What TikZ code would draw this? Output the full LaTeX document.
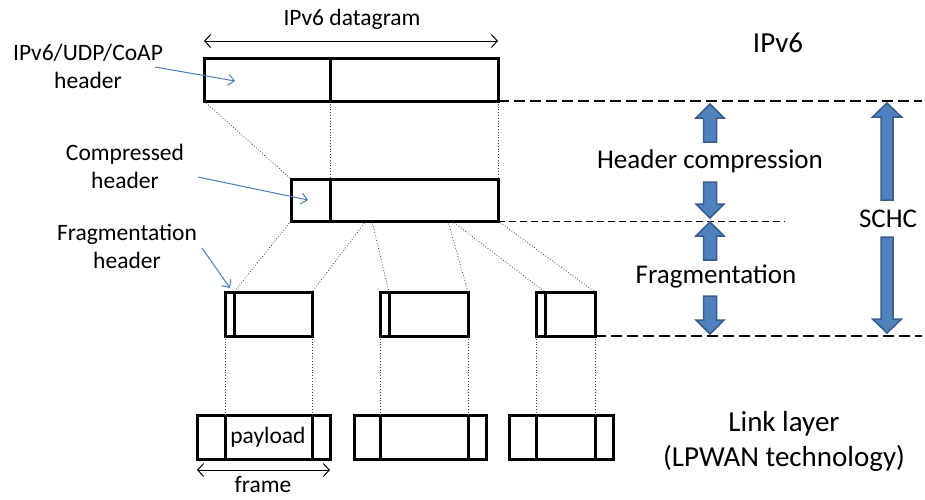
\documentclass[tikz,border=0pt]{standalone}
\usepackage{fontspec}
\setmainfont{Carlito}
\usetikzlibrary{arrows.meta}
\definecolor{tipblue}{HTML}{4A7EBB}
\definecolor{blockfill}{HTML}{4F81BD}
\definecolor{blockline}{HTML}{385D8A}
\tikzset{
  pkt/.style={draw, line width=3pt, inner sep=0pt, outer sep=0pt, anchor=north west},
  cut/.style={line width=3pt},
  link/.style={dotted, line width=0.8pt, black!75},
  level/.style={line width=1.4pt, dash pattern=on 11pt off 5pt},
  sublevel/.style={line width=1pt, dash pattern=on 7pt off 4pt},
  callout/.style={tipblue, line width=1pt, -{Straight Barb[length=6pt,width=11pt]}},
  span/.style={line width=1pt, {Straight Barb[length=6pt,width=13pt]}-{Straight Barb[length=6pt,width=13pt]}},
  lbl/.style={font=\fontsize{23.5}{28}\selectfont, align=center, inner sep=0pt},
  big/.style={font=\fontsize{27}{33}\selectfont, align=center, inner sep=0pt},
  huge/.style={font=\fontsize{29}{35}\selectfont, align=center, inner sep=0pt},
  block/.style={fill=blockfill, draw=blockline, line width=1.5pt},
}
% block arrow: x, tip, base, half shaft, half head, head length
\newcommand\upblock[6]{\draw[block] (#1,#2) -- (#1+#5,#2+#6) -- (#1+#4,#2+#6) -- (#1+#4,#3) -- (#1-#4,#3) -- (#1-#4,#2+#6) -- (#1-#5,#2+#6) -- cycle;}
\newcommand\downblock[6]{\draw[block] (#1,#2) -- (#1+#5,#2-#6) -- (#1+#4,#2-#6) -- (#1+#4,#3) -- (#1-#4,#3) -- (#1-#4,#2-#6) -- (#1-#5,#2-#6) -- cycle;}
\begin{document}
\begin{tikzpicture}[x=1pt, y=-1pt]
  \useasboundingbox (0,0) rectangle (925,499);

  % IPv6 datagram
  \node[pkt, minimum width=294pt, minimum height=43pt] (dgram) at (204,58) {};
  \coordinate (dcutn) at (330,58);
  \coordinate (dcuts) at (330,101);
  \draw[cut] (dcutn) -- (dcuts);
  \coordinate (spanl) at (204,41);
  \coordinate (spanr) at (498,41);
  \draw[span] (spanl) -- (spanr);
  \node[lbl] (dglabel) at (352,19) {IPv6 datagram};

  % compressed packet
  \node[pkt, minimum width=207pt, minimum height=42pt] (comp) at (291,179) {};
  \coordinate (ccutn) at (330,179);
  \coordinate (ccuts) at (330,221);
  \draw[cut] (ccutn) -- (ccuts);

  % fragments
  \node[pkt, minimum width=87pt, minimum height=44pt] (frag1) at (225,292) {};
  \node[pkt, minimum width=88pt, minimum height=44pt] (frag2) at (380,292) {};
  \node[pkt, minimum width=59pt, minimum height=44pt] (frag3) at (536,292) {};
  \foreach \x [count=\i] in {234,389,545} {
    \coordinate (fcut\i n) at (\x,292);
    \coordinate (fcut\i s) at (\x,336);
    \draw[cut] (fcut\i n) -- (fcut\i s);
  }

  % link layer frames
  \node[pkt, minimum width=133pt, minimum height=44pt] (frame1) at (197,415) {};
  \node[pkt, minimum width=132pt, minimum height=44pt] (frame2) at (354,415) {};
  \node[pkt, minimum width=104pt, minimum height=44pt] (frame3) at (509,415) {};
  \foreach \x [count=\i] in {225,312,380,468,536,595} {
    \coordinate (lcut\i n) at (\x,415);
    \coordinate (lcut\i s) at (\x,459);
    \draw[cut] (lcut\i n) -- (lcut\i s);
  }
  \node[lbl] (payload) at (268,437) {payload};
  \coordinate (framel) at (197,470);
  \coordinate (framer) at (330,470);
  \draw[span] (framel) -- (framer);
  \node[lbl] (framelabel) at (263,485) {frame};

  % dotted mapping lines
  \draw[link] (dgram.south west) -- (comp.north west);
  \draw[link] (dcuts) -- (ccutn);
  \draw[link] (dgram.south east) -- (comp.north east);
  \coordinate (c1) at (366,221);
  \coordinate (c2) at (372,221);
  \coordinate (c3) at (448,221);
  \coordinate (c4) at (452,221);
  \draw[link] (comp.south west) -- (fcut1n);
  \draw[link] (c1) -- (frag1.north east);
  \draw[link] (c2) -- (fcut2n);
  \draw[link] (c3) -- (frag2.north east);
  \draw[link] (c4) -- (fcut3n);
  \draw[link] (comp.south east) -- (frag3.north east);
  \draw[link] (frag1.south west) -- (lcut1n);
  \draw[link] (frag1.south east) -- (lcut2n);
  \draw[link] (frag2.south west) -- (lcut3n);
  \draw[link] (frag2.south east) -- (lcut4n);
  \draw[link] (frag3.south west) -- (lcut5n);
  \draw[link] (frag3.south east) -- (lcut6n);

  % level lines
  \coordinate (lvtop) at (922,101);
  \coordinate (lvmid) at (785,221);
  \coordinate (lvbot) at (922,336);
  \draw[level] (dgram.south east) -- (lvtop);
  \draw[sublevel] (comp.south east) -- (lvmid);
  \draw[level] (frag3.south east) -- (lvbot);

  % left labels and callouts
  \node[lbl] (hdrlabel) at (88,66) {IPv6/UDP/CoAP\\header};
  \node[lbl] (complabel) at (125,166) {Compressed\\header};
  \node[lbl] (fraglabel) at (127,246) {Fragmentation\\header};
  \coordinate (hdrfrom) at (155,67);
  \coordinate (hdrto) at (235,81);
  \coordinate (compfrom) at (198,177);
  \coordinate (compto) at (308,200);
  \coordinate (fragfrom) at (202,248);
  \coordinate (fragto) at (230,288);
  \draw[callout] (hdrfrom) -- (hdrto);
  \draw[callout] (compfrom) -- (compto);
  \draw[callout] (fragfrom) -- (fragto);

  % right side
  \node[huge] (ipv6) at (778,43) {IPv6};
  \node[big] (hclabel) at (710,161) {Header compression};
  \node[big] (fglabel) at (716,276) {Fragmentation};
  \node[big] (schc) at (888,219) {SCHC};
  \node[huge] (linklabel) at (784,441) {Link layer\\(LPWAN technology)};
  \upblock{710}{104}{142}{6.5}{14}{14}
  \downblock{710}{218}{182}{6.5}{14}{14}
  \upblock{710}{222}{260}{6.5}{14}{14}
  \downblock{710}{334}{296}{6.5}{14}{14}
  \upblock{887}{103}{200}{6}{14.5}{14}
  \downblock{887}{333}{237}{6}{14.5}{14}
\end{tikzpicture}
\end{document}
